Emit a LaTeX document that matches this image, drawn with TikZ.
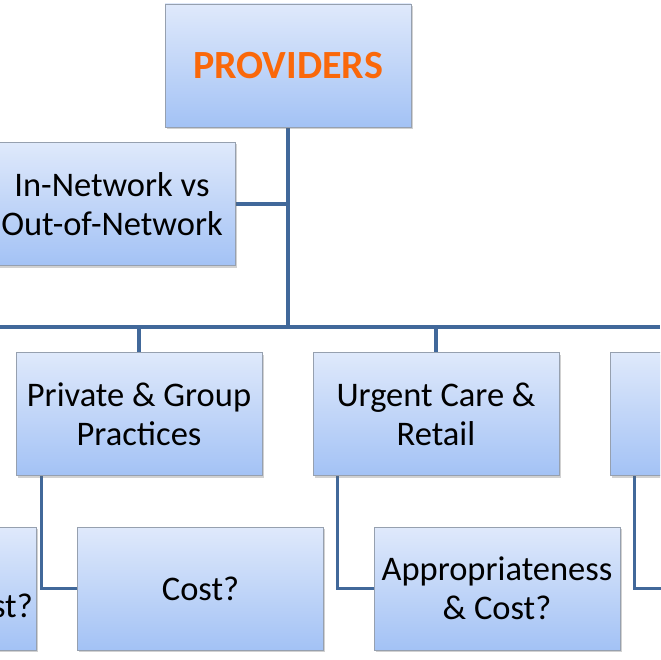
\documentclass[tikz,border=0pt]{standalone}
\usepackage{fontspec}
\setmainfont{Carlito}
\usetikzlibrary{shadows}
\pgfdeclarelayer{background}
\pgfsetlayers{background,main}
\definecolor{boxtop}{RGB}{223,233,251}
\definecolor{boxbot}{RGB}{163,194,245}
\definecolor{boxline}{RGB}{150,160,175}
\definecolor{wire}{RGB}{65,104,154}
\definecolor{orangetxt}{RGB}{250,104,10}
\tikzset{
  orgbox/.style={draw=boxline, line width=0.8pt, top color=boxtop, bottom color=boxbot,
    minimum width=246pt, minimum height=123pt, inner sep=0pt, align=center,
    font=\fontsize{34.5}{39}\selectfont,
    drop shadow={shadow xshift=1.5pt, shadow yshift=-2pt, opacity=0.3, fill=black!60}},
  wireline/.style={draw=wire, line width=3.2pt},
  lbl/.style={font=\fontsize{34.5}{39}\selectfont, inner sep=0pt}
}
\begin{document}
\begin{tikzpicture}[x=1pt,y=-1pt]
\useasboundingbox (0,0) rectangle (660,660);
\clip (0,0) rectangle (660,660);
% nodes
\node[orgbox, font=\fontsize{40}{46}\selectfont\bfseries, text=orangetxt] (prov) at (288,65.5) {PROVIDERS};
\node[orgbox] (innet) at (112,204) {In-Network vs\\Out-of-Network};
\node[orgbox] (priv) at (139,414) {Private \& Group\\Practices};
\node[orgbox] (urg) at (436,414) {Urgent Care \&\\Retail};
\node[orgbox] (rcol) at (733,414) {};
\node[orgbox] (lchild) at (-87,588.5) {};
\node[lbl, anchor=base east] (lchildtxt) at (33,617) {Cost?};
\node[orgbox] (cost) at (200.5,588.5) {Cost?};
\node[orgbox] (appr) at (497,588.5) {Appropriateness\\\& Cost?};
\node[orgbox] (rchild) at (794,588.5) {};
% connectors
\coordinate (busL) at (0,327);
\coordinate (busR) at (660,327);
\begin{pgfonlayer}{background}
\draw[wireline] (prov.south) -- (prov.south |- busL);
\draw[wireline] (innet.east) -- (innet.east -| prov.south);
\draw[wireline] (busL) -- (busR);
\draw[wireline] (busL -| priv.north) -- (priv.north);
\draw[wireline] (busL -| urg.north) -- (urg.north);
\draw[wireline] ([xshift=26pt]priv.south west) |- (cost.west);
\draw[wireline] ([xshift=25pt]urg.south west) |- (appr.west);
\draw[wireline] ([xshift=25pt]rcol.south west) |- (rchild.west);
\end{pgfonlayer}
\end{tikzpicture}
\end{document}
